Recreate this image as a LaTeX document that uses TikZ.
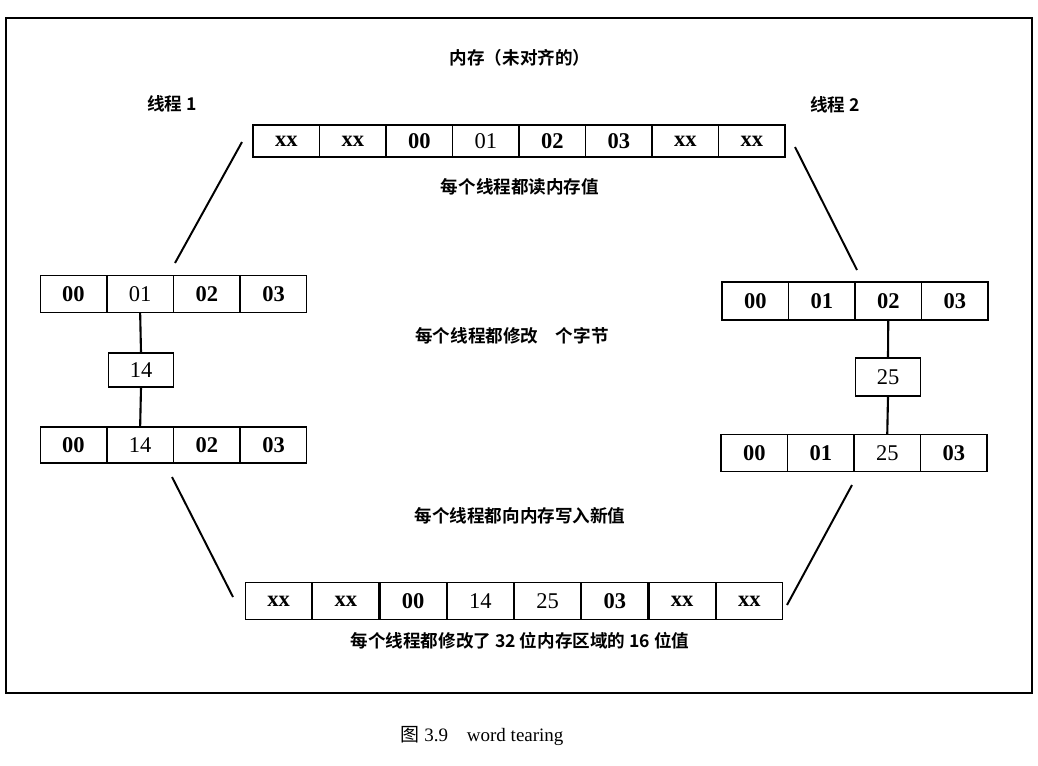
\documentclass[tikz,border=0pt]{standalone}
\usepackage{fontspec}
\setmainfont{Liberation Serif}
\newfontfamily\cjk[BoldFont={Noto Sans CJK SC Bold}]{Noto Sans CJK SC}
\tikzset{
  cell/.style={draw, line width=0.9pt, minimum width=1.66cm, minimum height=0.85cm, inner sep=0pt, font=\fontsize{16}{16}\selectfont},
  smallbox/.style={cell, minimum width=1.62cm},
  lbl/.style={font=\cjk\bfseries\fontsize{12.5}{14}\selectfont, inner sep=0pt},
  link/.style={line width=1.4pt},
  frame/.style={line width=1.9pt}
}
\begin{document}
\begin{tikzpicture}[x=0.025cm,y=-0.025cm]
\useasboundingbox (0,0) rectangle (1038,765);
\fill[white] (0,0) rectangle (1038,765);
\draw[frame] (6,18) rectangle (1032,693);

% titles
\node[lbl] (title) at (520,58) {内存（未对齐的）};
\node[lbl] (th1) at (172,104) {线程 1};
\node[lbl] (th2) at (835,105) {线程 2};
\node[lbl] (read) at (520,187) {每个线程都读内存值};
\node[lbl] (mod) at (512,336) {每个线程都修改\hspace{1em}个字节};
\node[lbl] (write) at (520,516) {每个线程都向内存写入新值};
\node[lbl] (sum) at (520,641) {每个线程都修改了 32 位内存区域的 16 位值};
\node[font=\fontsize{13.5}{15}\selectfont, inner sep=0pt] (cap) at (482,736) {{\cjk 图} 3.9\quad word tearing};

% top row
\foreach \v [count=\i] in {\textbf{xx},\textbf{xx},\textbf{00},01,\textbf{02},\textbf{03},\textbf{xx},\textbf{xx}}
  \node[cell, minimum height=0.8cm] (t\i) at ({253+33.25+66.5*(\i-1)},141) {\v};

% left rows
\foreach \v [count=\i] in {\textbf{00},01,\textbf{02},\textbf{03}}
  \node[cell, minimum height=0.92cm] (la\i) at ({40+33.4+66.75*(\i-1)},294) {\v};
\node[smallbox] (l14) at (141,370) {14};
\foreach \v [count=\i] in {\textbf{00},14,\textbf{02},\textbf{03}}
  \node[cell, minimum height=0.9cm] (lb\i) at ({40+33.4+66.75*(\i-1)},445) {\v};
\draw[line width=1.5pt] (la2.south) -- (l14.north);
\draw[line width=1.5pt] (l14.south) -- (lb2.north);

% right rows
\foreach \v [count=\i] in {\textbf{00},\textbf{01},\textbf{02},\textbf{03}}
  \node[cell, minimum height=0.95cm] (ra\i) at ({722+33.25+66.5*(\i-1)},301) {\v};
\node[smallbox, minimum height=0.95cm] (r25) at (888,377) {25};
\foreach \v [count=\i] in {\textbf{00},\textbf{01},25,\textbf{03}}
  \node[cell, minimum height=0.92cm] (rb\i) at ({721+33.25+66.5*(\i-1)},453) {\v};
\draw[line width=1.5pt] (ra3.south) -- (r25.north);
\draw[line width=1.5pt] (r25.south) -- (rb3.north);

% bottom row
\foreach \v [count=\i] in {\textbf{xx},\textbf{xx},\textbf{00},14,25,\textbf{03},\textbf{xx},\textbf{xx}}
  \node[cell, minimum height=0.92cm] (b\i) at ({245+33.6+67.25*(\i-1)},601) {\v};

% slanted connectors
\coordinate (p1a) at (242,142);
\coordinate (p1b) at (175,263);
\coordinate (p2a) at (795,147);
\coordinate (p2b) at (857,270);
\coordinate (p3a) at (172,477);
\coordinate (p3b) at (233,597);
\coordinate (p4a) at (852,485);
\coordinate (p4b) at (787,605);
\draw[link] (p1a) -- (p1b);
\draw[link] (p2a) -- (p2b);
\draw[link] (p3a) -- (p3b);
\draw[link] (p4a) -- (p4b);
\end{tikzpicture}
\end{document}
